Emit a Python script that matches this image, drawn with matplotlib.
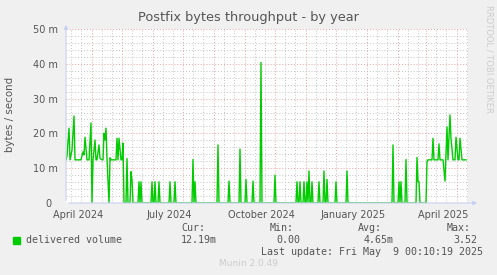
import numpy as np
import matplotlib
matplotlib.use("Agg")
import matplotlib.pyplot as plt
import matplotlib.transforms as mtransforms

# day offsets from the graph start and value in milli-bytes/second
start = np.datetime64("2024-03-06")
days = [0, 1, 3, 4, 6, 8, 9, 15, 17, 18, 19, 21, 23, 25, 26, 27, 29, 30, 31, 33,
        34, 36, 37, 38, 39, 40, 41, 43, 44, 45, 50, 51, 52, 53, 55, 56, 57, 58, 60, 61,
        62, 64, 65, 66, 67, 72, 73, 74, 75, 76, 85, 86, 87, 88, 89, 90, 92, 93, 94, 103,
        104, 105, 108, 109, 110, 126, 127, 128, 129, 130, 151, 152, 153, 162, 163, 164, 173, 174, 175, 179,
        180, 181, 186, 187, 188, 194, 195, 196, 208, 209, 210, 230, 231, 232, 233, 234, 235, 237, 238, 239,
        240, 241, 242, 243, 244, 245, 246, 247, 252, 253, 254, 257, 258, 259, 260, 261, 262, 269, 270, 271,
        280, 281, 282, 326, 327, 328, 332, 333, 334, 335, 336, 339, 340, 341, 350, 351, 352, 353, 354, 360,
        361, 362, 366, 367, 368, 372, 373, 374, 377, 379, 381, 382, 383, 384, 385, 387, 389, 390, 392, 393,
        394, 396, 400]
vals = [12.4, 13.5, 21.5, 12.4, 15.2, 25.0, 12.4, 12.4, 14.7, 13.8, 18.9, 12.4, 12.4, 23.0, 0, 12.4, 18.1, 12.4, 12.4, 16.7,
        12.8, 12.4, 12.4, 20.0, 18.1, 21.5, 12.8, 0, 13.0, 12.4, 12.4, 18.6, 12.4, 18.6, 12.4, 12.4, 17.2, 0, 0, 12.8,
        0, 0, 9.0, 6.6, 0, 0, 6.1, 0, 6.1, 0, 0, 6.1, 0, 0, 6.1, 0, 0, 6.1, 0, 0,
        6.1, 0, 0, 6.1, 0, 0, 12.5, 0, 6.1, 0, 0, 16.7, 0, 0, 6.3, 0, 0, 15.5, 0, 0,
        6.8, 0, 0, 6.3, 0, 0, 40.4, 0, 0, 8.0, 0, 0, 6.1, 0, 0, 6.1, 0, 0, 6.1, 0,
        0, 6.1, 0, 9.2, 0, 0, 6.1, 0, 0, 6.1, 0, 0, 9.2, 0, 0, 6.8, 0, 0, 6.1, 0,
        0, 9.2, 0, 0, 16.7, 0, 0, 6.1, 0, 6.1, 0, 0, 12.5, 0, 0, 13.1, 6.1, 6.1, 0, 0,
        11.9, 12.4, 12.4, 18.6, 12.4, 12.4, 17.0, 12.4, 12.4, 6.3, 21.9, 12.4, 18.6, 25.3, 18.6, 12.4, 12.4, 18.9, 12.4, 12.4,
        18.6, 12.4, 12.4]
n_days = 402

month_starts = ["2024-04", "2024-05", "2024-06", "2024-07", "2024-08", "2024-09", "2024-10",
                "2024-11", "2024-12", "2025-01", "2025-02", "2025-03", "2025-04"]
label_months = ["2024-04", "2024-07", "2024-10", "2025-01", "2025-04"]
label_text = ["April 2024", "July 2024", "October 2024", "January 2025", "April 2025"]

W, H = 497, 275
fig = plt.figure(figsize=(W / 100, H / 100), dpi=100, facecolor="#f0f0f0")
ax = fig.add_axes([66 / W, 1 - 203 / H, 402 / W, 174 / H], facecolor="white")

x = start + np.array(days)
end = start + n_days
ax.set_xlim(start, end)
ax.set_ylim(0, 50)

# grid
for yv in np.arange(2, 50.1, 2):
    if yv % 10 == 0:
        ax.axhline(yv, color="#eaa0a0", lw=0.7, ls=(0, (1, 2)), zorder=1)
    else:
        ax.axhline(yv, color="#c4c4c4", lw=0.7, ls=(0, (1, 2)), zorder=1)
minor = []
for m in ["2024-03"] + month_starts:
    for d in ("11", "21"):
        minor.append(np.datetime64(m + "-" + d))
for d in minor:
    if start < d < end:
        ax.axvline(d, color="#c4c4c4", lw=0.7, ls=(0, (1, 2)), zorder=1)
for m in month_starts:
    ax.axvline(np.datetime64(m + "-01"), color="#eaa0a0", lw=0.7, ls=(0, (1, 2)), zorder=1)

ax.plot(x, vals, color="#00cc00", lw=1.0, zorder=3)

ax.set_yticks([0, 10, 20, 30, 40, 50])
ax.set_yticklabels(["0", "10 m", "20 m", "30 m", "40 m", "50 m"])
ax.set_xticks([np.datetime64(m + "-01") for m in label_months])
ax.set_xticklabels(label_text)
ax.tick_params(length=0, labelsize=7, colors="#555555")
ax.tick_params(axis="x", pad=5)
ax.tick_params(axis="y", pad=6)
shift = mtransforms.ScaledTranslation(-14 / 100, 0, fig.dpi_scale_trans)
for lab in ax.get_xticklabels():
    lab.set_transform(lab.get_transform() + shift)
zero_shift = mtransforms.ScaledTranslation(-6 / 100, 0, fig.dpi_scale_trans)
ylabs = ax.get_yticklabels()
ylabs[0].set_transform(ylabs[0].get_transform() + zero_shift)
for s in ax.spines.values():
    s.set_visible(False)

# axes with arrows
ax.annotate("", xy=(0, 1.04), xytext=(0, 0), xycoords="axes fraction",
            arrowprops=dict(arrowstyle="-|>", color="#c8d0f0", lw=0.8, mutation_scale=6))
ax.annotate("", xy=(1.03, 0), xytext=(0, 0), xycoords="axes fraction",
            arrowprops=dict(arrowstyle="-|>", color="#c8d0f0", lw=0.8, mutation_scale=6))

def ft(px, py, s, **kw):
    fig.text(px / W, 1 - py / H, s, **kw)

ft(248, 18, "Postfix bytes throughput - by year", fontsize=9.3, color="#555555",
   ha="center", va="center")
ft(10, 114, "bytes / second", fontsize=7.4, color="#555555", rotation=90,
   ha="center", va="center")
ft(489, 5, "RRDTOOL / TOBI OETIKER", fontsize=6, color="#cccccc", rotation=270,
   ha="center", va="top")

mono = dict(family="DejaVu Sans Mono", fontsize=7.2, color="#555555", va="center")
fig.patches.append(plt.Rectangle((13 / W, 1 - 244 / H), 7 / W, 7 / H,
                                 transform=fig.transFigure, color="#00cc00"))
ft(26, 240, "delivered volume", **mono)
ft(181, 228, "Cur:", **mono)
ft(181, 240, "12.19m", **mono)
ft(270, 228, "Min:", **mono)
ft(276, 240, "0.00", **mono)
ft(358, 228, "Avg:", **mono)
ft(364, 240, "4.65m", **mono)
ft(447, 228, "Max:", **mono)
ft(453, 240, "3.52", **mono)
ft(261, 252, "Last update: Fri May  9 00:10:19 2025", **mono)
ft(249, 263, "Munin 2.0.49", fontsize=6.5, color="#cccccc", ha="center", va="center")

fig.savefig("out.png", dpi=100, facecolor=fig.get_facecolor())
